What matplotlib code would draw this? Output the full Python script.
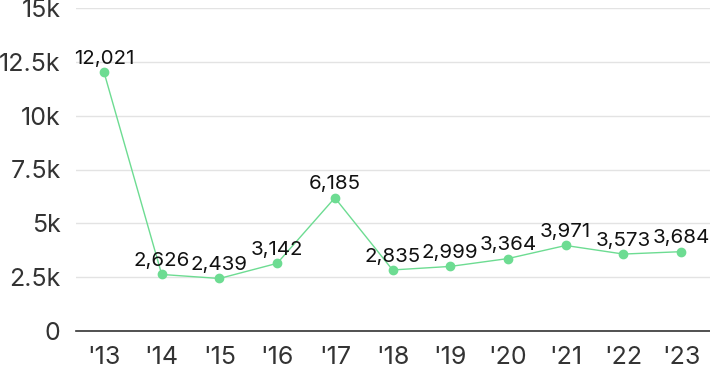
import matplotlib
matplotlib.use("Agg")
import matplotlib.pyplot as plt
from matplotlib.ticker import FixedLocator

years = ["'13", "'14", "'15", "'16", "'17", "'18", "'19", "'20", "'21", "'22", "'23"]
values = [12021, 2626, 2439, 3142, 6185, 2835, 2999, 3364, 3971, 3573, 3684]
yticks = [0, 2500, 5000, 7500, 10000, 12500, 15000]
ylabels = ["0", "2.5k", "5k", "7.5k", "10k", "12.5k", "15k"]

green = "#6ddc92"
plt.rcParams["font.family"] = ["Inter", "DejaVu Sans"]

fig = plt.figure(figsize=(7.1, 3.71), dpi=100)
ax = fig.add_axes([76 / 710, 1 - 331 / 371, 1 - 76 / 710, 323 / 371])

x = list(range(len(years)))
ax.plot(x, values, color=green, lw=1, marker="o", ms=6, mec=green, mfc=green, zorder=3, clip_on=False)
for xi, v in zip(x, values):
    ax.annotate(f"{v:,}", (xi, v), xytext=(0, 6), textcoords="offset points",
                ha="center", va="baseline", fontsize=14.8, color="#111111", zorder=4)

ax.set_xlim(-0.485, 10.5)
ax.set_ylim(0, 15000)
ax.yaxis.set_major_locator(FixedLocator(yticks))
ax.set_yticklabels(ylabels)
ax.set_xticks(x)
ax.set_xticklabels(years)
ax.tick_params(axis="both", length=0, labelsize=18, colors="#333333")
ax.tick_params(axis="y", pad=11)
ax.tick_params(axis="x", pad=11)
ax.grid(axis="y", color="#e3e3e3", lw=1)
ax.set_axisbelow(True)
for s in ["top", "right", "left"]:
    ax.spines[s].set_visible(False)
ax.spines["bottom"].set_color("#333333")
ax.spines["bottom"].set_linewidth(1.2)

fig.savefig("out.png", dpi=100)
